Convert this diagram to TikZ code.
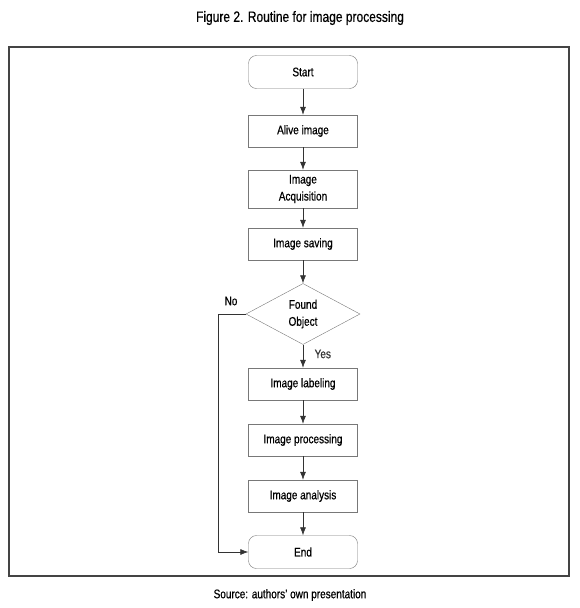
\documentclass[tikz,border=0pt]{standalone}
\usepackage{fontspec}
\setmainfont{Liberation Sans}[FakeStretch=0.8, FakeBold=0.6]
\usepackage{tikz}
\usetikzlibrary{shapes.geometric, arrows.meta, positioning}
\definecolor{framegray}{RGB}{68,68,68}
\definecolor{boxgray}{RGB}{120,120,120}

\begin{document}
\begin{tikzpicture}[
  x=1pt, y=-1pt,
  every node/.style={font=\fontsize{12.5}{17}\selectfont},
  stepbox/.style={draw=boxgray, fill=white, minimum width=109pt, minimum height=32pt, align=center, inner sep=2pt},
  termbox/.style={stepbox, rounded corners=8pt, minimum height=33pt},
  decisionbox/.style={draw=boxgray, diamond, minimum width=114pt, minimum height=61pt, aspect=1.9, align=center, inner sep=0pt},
  flow/.style={-{Latex[length=8pt, width=6pt]}, black!80, semithick},
]
  \useasboundingbox (0,0) rectangle (580,608);

  % Caption and outer frame
  \node[font=\fontsize{15}{17}\selectfont] (title) at (300,18) {Figure 2. Routine for image processing};
  \draw[framegray, line width=1.6pt] (9,47) rectangle (569,576);
  \node[font=\fontsize{12.5}{14}\selectfont] (source) at (290,595) {Source: authors' own presentation};

  % Routine steps
  \node[termbox] (start) at (303,72) {Start};
  \node[stepbox] (alive) at (303,131) {Alive image};
  \node[stepbox, minimum height=38pt] (acquisition) at (303,189) {Image\\Acquisition};
  \node[stepbox] (saving) at (303,244) {Image saving};
  \node[decisionbox] (found) at (303,314) {Found\\Object};
  \node[stepbox] (labeling) at (303,384) {Image labeling};
  \node[stepbox] (processing) at (303,440) {Image processing};
  \node[stepbox] (analysis) at (303,496) {Image analysis};
  \node[termbox] (end) at (303,552) {End};

  % Connectors
  \draw[flow] (start) -- (alive);
  \draw[flow] (alive) -- (acquisition);
  \draw[flow] (acquisition) -- (saving);
  \draw[flow] (saving) -- (found);
  \draw[flow] (found) -- node[right=8pt, pos=0.4] (yes) {Yes} (labeling);
  \draw[flow] (labeling) -- (processing);
  \draw[flow] (processing) -- (analysis);
  \draw[flow] (analysis) -- (end);
  \draw[flow] (found.west) -- ++(-28,0) |- (end.west);
  \node (no) at (231,301) {No};
\end{tikzpicture}
\end{document}
